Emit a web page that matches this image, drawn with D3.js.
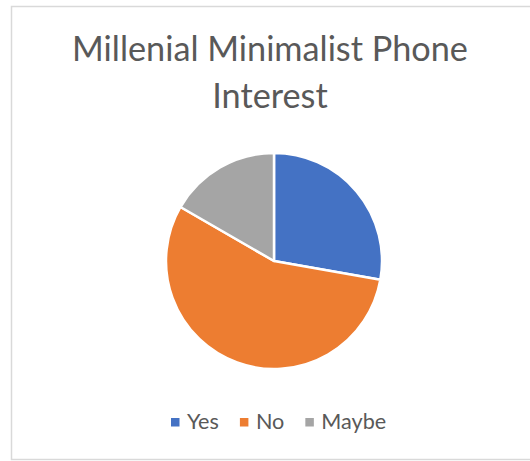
<!DOCTYPE html>
<html>
<head>
<meta charset="utf-8">
<script src="https://cdn.jsdelivr.net/npm/d3@7"></script>
<style>
  html, body { margin: 0; padding: 0; background: #fff; }
  svg { display: block; }
</style>
</head>
<body>
<svg id="chart" width="530" height="461"></svg>
<script>
// Survey answers
const categories = ["Yes", "No", "Maybe"];
const counts = [5, 10, 3];
const colors = ["#4472C4", "#ED7D31", "#A5A5A5"];
const titleLines = ["Millenial Minimalist Phone", "Interest"];

const W = 530, H = 461;
const svg = d3.select("#chart");
const FONT = "Lato, 'Open Sans', sans-serif";
const TEXT_COLOR = "#595959";

// chart area frame
svg.append("rect")
  .attr("x", 11.5).attr("y", 6.5)
  .attr("width", W + 10).attr("height", 453)
  .attr("fill", "#fff")
  .attr("stroke", "#d9d9d9").attr("stroke-width", 1.5);

// title, sized so the first line spans the target width
const title = svg.append("g").attr("fill", TEXT_COLOR).attr("font-family", FONT);
const t1 = title.append("text").attr("text-anchor", "middle").attr("x", 270).attr("y", 61)
  .attr("font-size", 32).text(titleLines[0]);
const titleSize = 32 * 396 / t1.node().getComputedTextLength();
t1.attr("font-size", titleSize);
title.append("text").attr("text-anchor", "middle").attr("x", 270).attr("y", 108)
  .attr("font-size", titleSize).text(titleLines[1]);

// pie
const cx = 274, cy = 261, r = 108;
const data = categories.map((c, i) => ({ name: c, value: counts[i], color: colors[i] }));
const pie = d3.pie().value(d => d.value).sort(null);
const arc = d3.arc().innerRadius(0).outerRadius(r);
svg.append("g").attr("transform", `translate(${cx},${cy})`)
  .selectAll("path").data(pie(data)).join("path")
  .attr("d", arc)
  .attr("fill", d => d.data.color)
  .attr("stroke", "#fff").attr("stroke-width", 2.5)
  .attr("stroke-linejoin", "round");

// legend, font sized so the longest label spans its target width
const legend = svg.append("g").attr("font-family", FONT).attr("fill", TEXT_COLOR);
const probe = legend.append("text").attr("font-size", 20).text("Maybe");
const legendSize = 20 * 65 / probe.node().getComputedTextLength();
probe.remove();
legend.attr("font-size", legendSize);
let lx = 171;
const ly = 429;
data.forEach(d => {
  legend.append("rect").attr("x", lx).attr("y", ly - 11).attr("width", 8.5).attr("height", 8.5).attr("fill", d.color);
  const t = legend.append("text").attr("x", lx + 16).attr("y", ly).text(d.name);
  lx += 16 + t.node().getComputedTextLength() + 21;
});
</script>
</body>
</html>
